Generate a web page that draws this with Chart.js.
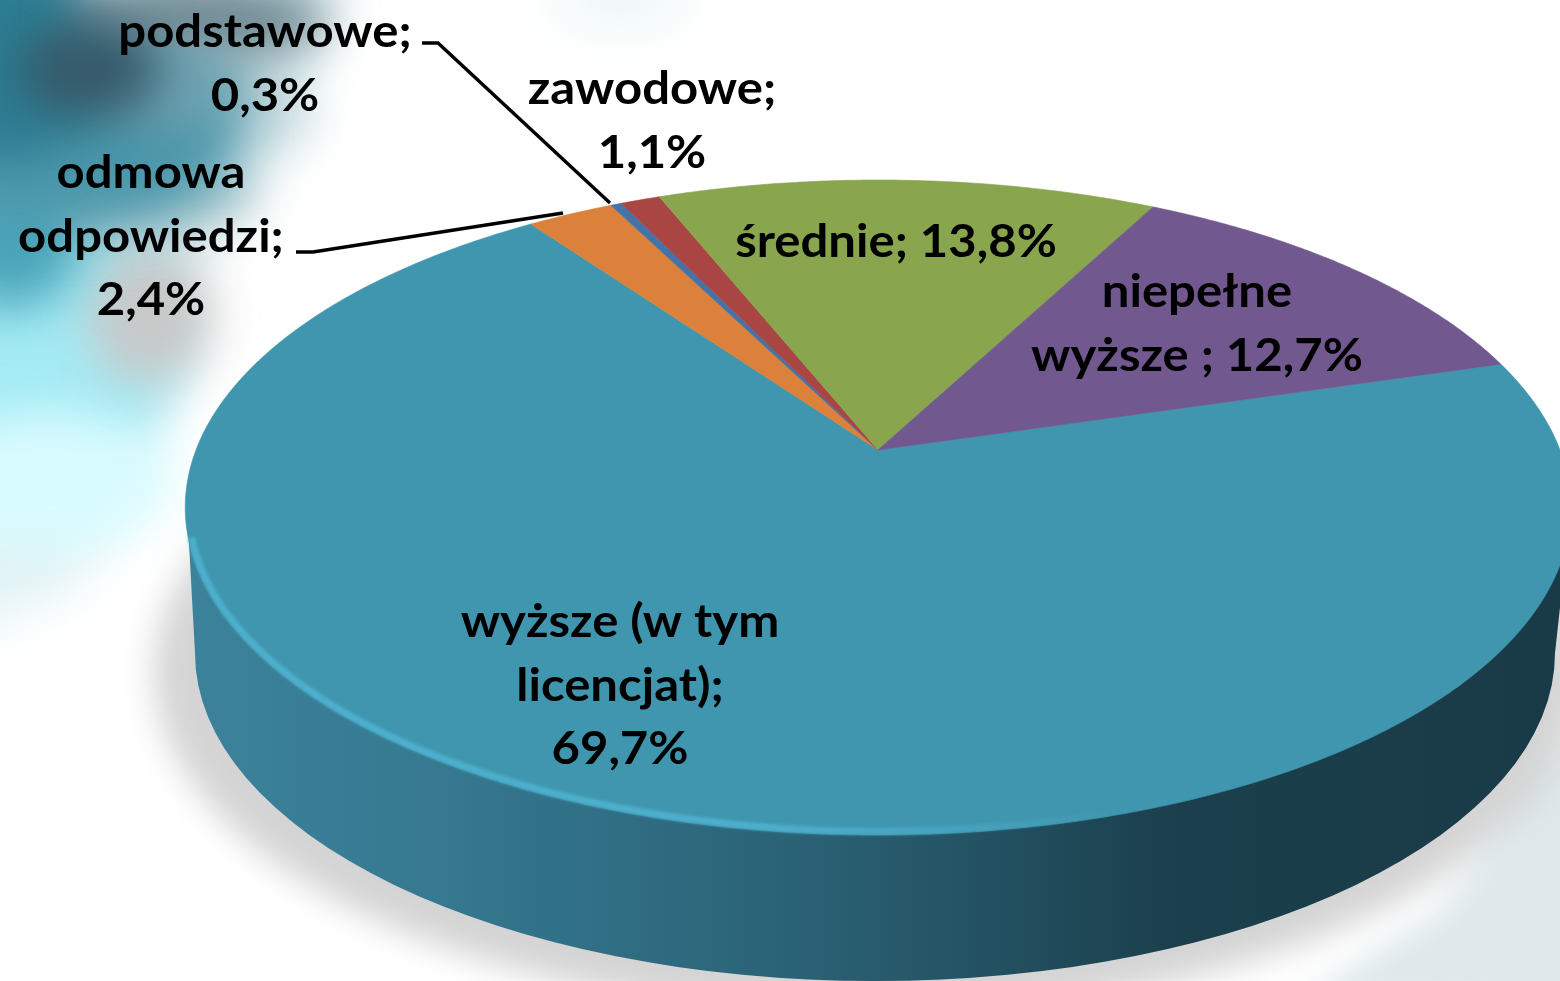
<!DOCTYPE html>
<html><head><meta charset="utf-8">
<style>html,body{margin:0;padding:0;background:#fff;overflow:hidden}canvas{display:block;filter:blur(.7px)}</style>
<script src="https://cdn.jsdelivr.net/npm/chart.js@4"></script>
</head><body><canvas id="c" width="1560" height="981"></canvas>
<script>
const categories=["wyższe (w tym licencjat)","odmowa odpowiedzi","podstawowe","zawodowe","średnie","niepełne wyższe"];
const values=[69.7,2.4,0.3,1.1,13.8,12.7];
const sliceColors=["#4096AF","#DB813B","#4572A7","#A94543","#89A54E","#71588F"];
const labelLines=[["wyższe (w tym","licencjat);","69,7%"],["odmowa","odpowiedzi;","2,4%"],["podstawowe;","0,3%"],["zawodowe;","1,1%"],["średnie; 13,8%"],["niepełne","wyższe ; 12,7%"]];

// layout (not data)
const TOP={cx:878,cy:507,a:693,b:328};
const LOW={cx:875,cy:653,a:680,b:328};
const APEX={x:878,y:450},R=682,S=317.4,K=-0.1756;
const LABEL_POS=[[620,637],[151,188],[265,47],[652,104],[896,257],[1197,307]];
const LINE_H=63.5;
const FONT='bold 45px Lato, "Open Sans", sans-serif';
const TEXT_STRETCH=1.09;
const LEADERS=[[[422,43],[438,43],[610,203]],[[296,252],[313,252],[563,213]]];
const BASE=[[-60,-60],[350,-60],[300,90],[200,220],[170,350],[130,480],[70,590],[-60,640]];
const BLOBS=[
 [50,350,130,130,'#a4ebf5',1],[50,480,120,70,'#d8fbfe',1],[150,315,62,70,'#c8c8c8',1],
 [150,190,110,50,'#b0ccd2',1],[240,110,70,50,'#c0d6dc',1],[10,240,70,70,'#4aa6bb',1],[70,130,170,100,'#4b97ab',1],
 [0,50,110,110,'#2c7d93',1],[200,20,130,42,'#6f8993',1],[175,85,70,42,'#6fa3b2',1],
 [90,70,72,48,'#365a6a',1],[620,0,70,26,'#edf6f6',1]];
const PATCH=[[1300,1000],[1440,910],[1590,720],[1590,1010]];

function project(theta){const u=Math.cos(theta),v=Math.sin(theta),w=1+K*v;
  return [APEX.x+R*u/w,APEX.y+S*v/w];}

// Every slice keeps the angles the library computed; only its projection is tilted.
Chart.ArcElement.prototype.draw=function(ctx){
  const {startAngle:a0,endAngle:a1}=this.getProps(['startAngle','endAngle'],true);
  const n=Math.max(4,Math.ceil((a1-a0)/0.008));
  ctx.save();ctx.beginPath();ctx.moveTo(APEX.x,APEX.y);
  for(let i=0;i<=n;i++){const p=project(a0+(a1-a0)*i/n);ctx.lineTo(p[0],p[1]);}
  ctx.closePath();ctx.fillStyle=this.options.backgroundColor;ctx.fill();
  ctx.strokeStyle=this.options.backgroundColor;ctx.lineWidth=.6;ctx.stroke();ctx.restore();
};

function poly(c,pts){c.beginPath();pts.forEach((p,i)=>i?c.lineTo(p[0],p[1]):c.moveTo(p[0],p[1]));c.closePath();c.fill();}

const scene={id:'scene',
 beforeDraw(chart){const c=chart.ctx;c.save();c.fillStyle='#fff';c.fillRect(0,0,1560,981);
  c.filter='blur(24px)';c.fillStyle='#e2f3f5';poly(c,BASE);
  BLOBS.forEach(b=>{c.globalAlpha=b[5];c.fillStyle=b[4];c.beginPath();c.ellipse(b[0],b[1],b[2],b[3],0,0,7);c.fill();});
  c.globalAlpha=1;
  c.filter='blur(14px)';c.fillStyle='#dfe9ec';poly(c,PATCH);
  c.filter='blur(16px)';c.fillStyle='rgba(0,0,0,.17)';
  c.beginPath();c.ellipse(868,672,714,342,0,0,7);c.fill();
  c.filter='none';
  // side wall
  const g=c.createLinearGradient(190,0,1560,0);
  [[0,'#3b829a'],[.15,'#377b93'],[.3,'#306f85'],[.45,'#2a6174'],[.6,'#224f5f'],[.72,'#1b3f4c'],[1,'#193b47']].forEach(s=>g.addColorStop(s[0],s[1]));
  c.fillStyle=g;c.beginPath();
  c.moveTo(TOP.cx-TOP.a+2,TOP.cy);
  c.lineTo(LOW.cx-LOW.a,LOW.cy);
  c.ellipse(LOW.cx,LOW.cy,LOW.a,LOW.b,0,Math.PI,0,true);
  c.lineTo(TOP.cx+TOP.a,TOP.cy);c.closePath();c.fill();
  c.restore();},
 afterDatasetsDraw(chart){const c=chart.ctx;c.save();
  // bevel along the front rim
  const g=c.createLinearGradient(185,0,1120,0);
  g.addColorStop(0,'#4dafcd');g.addColorStop(.62,'#4dafcd');g.addColorStop(.85,'rgba(77,175,205,.45)');g.addColorStop(1,'rgba(77,175,205,0)');
  c.strokeStyle=g;c.lineWidth=7;c.filter='blur(1.5px)';
  c.beginPath();c.ellipse(TOP.cx,TOP.cy,TOP.a-3.5,TOP.b-3.5,0,Math.PI*.97,Math.PI*.32,true);c.stroke();c.filter='none';
  // leader lines
  c.strokeStyle='#000';c.lineWidth=3.4;
  LEADERS.forEach(l=>{c.beginPath();l.forEach((p,i)=>i?c.lineTo(p[0],p[1]):c.moveTo(p[0],p[1]));c.stroke();});
  // labels
  c.fillStyle='#000';c.font=FONT;c.textAlign='center';c.textBaseline='alphabetic';
  labelLines.forEach((lines,i)=>lines.forEach((t,j)=>{
    c.save();c.translate(LABEL_POS[i][0],LABEL_POS[i][1]+j*LINE_H);c.scale(TEXT_STRETCH,1);
    c.fillText(t,0,0);c.restore();}));
  c.restore();}
};

new Chart(document.getElementById('c'),{type:'pie',
 data:{labels:categories,datasets:[{data:values,backgroundColor:sliceColors,borderWidth:0}]},
 options:{responsive:false,animation:false,rotation:73.5,circumference:360,
  layout:{padding:0},plugins:{legend:{display:false},tooltip:{enabled:false}}},
 plugins:[scene]});
</script></body></html>
